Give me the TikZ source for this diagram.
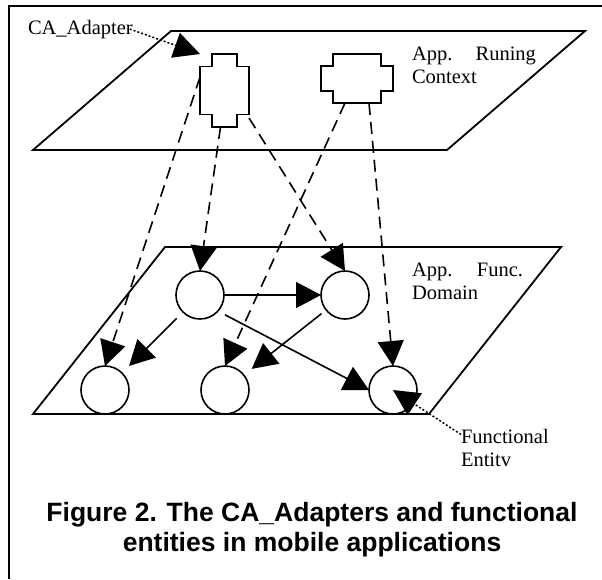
\documentclass[tikz,border=0pt]{standalone}
\usepackage{fontspec}
\setmainfont{Liberation Serif}
\newfontfamily\capfont{Liberation Sans}
\usetikzlibrary{arrows.meta,calc}
\tikzset{
  frameline/.style={line width=2pt},
  plane/.style={line width=1.8pt, line join=miter},
  adapterline/.style={line width=1.8pt},
  entity/.style={circle, draw, line width=1.6pt, minimum size=48pt, inner sep=0pt, outer sep=0pt},
  adaptbox/.style={draw=none, rectangle, inner sep=0pt, outer sep=0pt},
  bigtip/.style={-{Triangle[length=25pt,width=26pt]}},
  solidarrow/.style={line width=1.6pt, bigtip},
  dasharrow/.style={line width=1.6pt, dash pattern=on 12pt off 7pt, bigtip},
  dotarrow/.style={line width=1.5pt, dash pattern=on 2pt off 2pt, -{Triangle[length=26pt,width=26pt]}},
  lbl/.style={inner sep=0pt, outer sep=0pt, font=\fontsize{20.5}{23}\selectfont},
  caption/.style={inner sep=0pt, outer sep=0pt, align=center, font=\capfont\bfseries\fontsize{26.5}{30}\selectfont}
}
\begin{document}
\begin{tikzpicture}[x=1pt, y=-1pt]
\useasboundingbox (0,0) rectangle (602,579);
% outer frame
\draw[frameline] (9,579) -- (9,6) -- (602,6);
% planes
\draw[plane] (171,31) -- (585,31) -- (447,150) -- (33,150) -- cycle;
\draw[plane] (165,247) -- (561,247) -- (429,414) -- (33,414) -- cycle;
% adapters
\node[adaptbox, minimum width=49pt, minimum height=73pt] (ad1) at (224.5,90.5) {};
\node[adaptbox, minimum width=72pt, minimum height=49pt] (ad2) at (357,78.5) {};
\begin{scope}[shift={(ad1.center)}]
\draw[adapterline] (-12.5,-36.5) -- (12.5,-36.5) -- (12.5,-24) -- (24.5,-24) -- (24.5,24) -- (12.5,24) -- (12.5,36.5) -- (-12.5,36.5) -- (-12.5,24) -- (-24.5,24) -- (-24.5,-24) -- (-12.5,-24) -- cycle;
\end{scope}
\begin{scope}[shift={(ad2.center)}]
\draw[adapterline] (-24,-24.5) -- (24,-24.5) -- (24,-12.5) -- (36,-12.5) -- (36,12.5) -- (24,12.5) -- (24,24.5) -- (-24,24.5) -- (-24,12.5) -- (-36,12.5) -- (-36,-12.5) -- (-24,-12.5) -- cycle;
\end{scope}
% entities
\node[entity] (A) at (200,295) {};
\node[entity] (B) at (345,295) {};
\node[entity] (C) at (105,390) {};
\node[entity] (D) at (225,390) {};
\node[entity] (E) at (393,390) {};
% labels
\node[lbl, anchor=base west] (ca) at (28,34) {CA\_Adapter};
\node[lbl, anchor=north west, text width=124pt, align=left] (ctx) at (412,47) {App.\hfill Runing\\Context};
\node[lbl, anchor=north west, text width=111pt, align=left] (dom) at (412,263) {App.\hfill Func.\\Domain};
\node[lbl, anchor=north west, align=left] (fe) at (461,429.5) {Functional\\Entitv};
\node[caption, anchor=north] (cap) at (312,502) {Figure 2. The CA\_Adapters and functional\\entities in mobile applications};
% dashed mappings
\draw[dasharrow] ([yshift=13.5pt]ad1.west) -- (C.north);
\draw[dasharrow] ([xshift=-4pt]ad1.south) -- (A.north);
\draw[dasharrow] ([yshift=9pt]ad1.south east) -- (B.north);
\draw[dasharrow] ([xshift=-12pt]ad2.south) -- (D.north);
\draw[dasharrow] ([xshift=12pt]ad2.south) -- (E.north);
% solid relations
\draw[solidarrow] (A.east) -- (B.west);
\draw[solidarrow, shorten <=9pt, shorten >=10pt] (A) -- (C);
\draw[solidarrow, shorten <=6pt, shorten >=10pt] (B) -- (D);
\draw[solidarrow, shorten <=8pt] (A.-42) -- (E.west);
% dotted callouts
\draw[dotarrow] ([xshift=-3pt]ca.east) -- (ad1.north west);
\draw[dotarrow] ([yshift=-5pt]fe.north west) -- (E.center);
\end{tikzpicture}
\end{document}
